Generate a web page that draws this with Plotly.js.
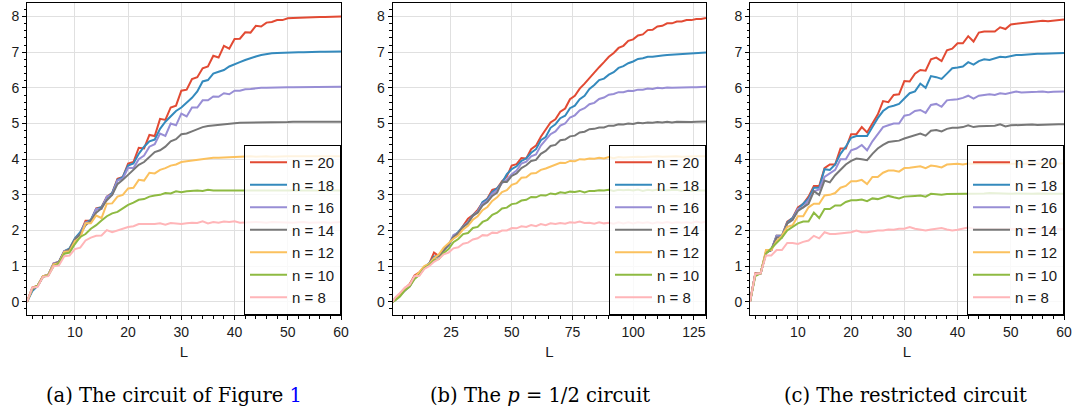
<!DOCTYPE html>
<html><head><meta charset="utf-8">
<script src="https://cdn.plot.ly/plotly-3.0.1.min.js"></script>
<style>html,body{margin:0;padding:0;background:#fff}#chart{width:1079px;height:413px}</style>
</head><body><div id="chart"></div>
<script>
// ---- data ----
const seriesLabels = ['n = 20', 'n = 18', 'n = 16', 'n = 14', 'n = 12', 'n = 10', 'n = 8'];
const seriesColors = ['#E24A33', '#348ABD', '#988ED5', '#777777', '#FBC15E', '#8EBA42', '#FFB5B8'];

// x values (circuit depth L)
const L_a = []; for (let i = 1; i <= 60; i++) L_a.push(i);
const L_b = [1]; for (let i = 2; i <= 130; i += 2) L_b.push(i);
const L_c = []; for (let i = 1; i <= 60; i++) L_c.push(i);

// (a) The circuit of Figure 1
const a_n20 = [0,0.4,0.45,0.72,0.75,1.08,1.12,1.42,1.47,1.76, 1.92,2.27,2.27,2.62,2.65,2.95,3.05,3.45,3.5,3.88, 3.92,4.32,4.3,4.68,4.65,5.13,5.1,5.45,5.5,5.92, 5.95,6.25,6.3,6.55,6.6,6.9,6.85,7.18,7.1,7.37, 7.38,7.56,7.55,7.74,7.72,7.83,7.85,7.9,7.9,7.95, 7.96,7.97,7.98,7.98,7.99,7.99,7.99,8.0,8.0,8.0];
const a_n18 = [0,0.3,0.45,0.7,0.76,1.05,1.12,1.42,1.5,1.78, 1.95,2.22,2.3,2.6,2.65,2.92,3.05,3.42,3.5,3.82, 3.88,4.15,4.35,4.5,4.55,4.85,5.05,5.2,5.35,5.45, 5.58,5.72,5.9,6.18,6.22,6.4,6.45,6.5,6.6,6.65, 6.72,6.78,6.84,6.88,6.92,6.95,6.97,6.98,6.99,7.0, 7.0,7.0,7.0,7.01,7.01,7.01,7.01,7.01,7.01,7.02];
const a_n16 = [0,0.35,0.45,0.72,0.75,1.08,1.12,1.42,1.45,1.75, 1.9,2.22,2.25,2.6,2.6,2.95,3.0,3.4,3.45,3.76, 3.75,4.0,4.1,4.35,4.42,4.72,4.65,5.0,4.95,5.28, 5.2,5.45,5.45,5.65,5.65,5.76,5.75,5.85,5.82,5.92, 5.92,5.96,5.97,5.99,6.0,6.0,6.01,6.01,6.02,6.02, 6.02,6.02,6.02,6.03,6.02,6.03,6.03,6.03,6.03,6.03];
const a_n14 = [0,0.35,0.45,0.7,0.76,1.05,1.12,1.4,1.48,1.75, 1.9,2.15,2.28,2.5,2.62,2.85,3.0,3.3,3.42,3.56, 3.7,3.84,3.92,4.05,4.2,4.25,4.35,4.5,4.56,4.7, 4.72,4.78,4.85,4.9,4.93,4.95,4.97,4.99,5.0,5.01, 5.02,5.02,5.03,5.03,5.03,5.04,5.04,5.04,5.04,5.04, 5.05,5.05,5.04,5.05,5.05,5.05,5.05,5.05,5.05,5.05];
const a_n12 = [0,0.38,0.45,0.72,0.75,1.05,1.08,1.4,1.42,1.7, 1.8,2.2,2.2,2.42,2.35,2.75,2.76,2.95,3.0,3.18, 3.2,3.42,3.4,3.62,3.6,3.7,3.75,3.82,3.85,3.92, 3.94,3.96,4.0,4.02,4.03,4.04,4.04,4.05,4.05,4.07, 4.06,4.07,4.08,4.07,4.08,4.08,4.07,4.08,4.08,4.08, 4.08,4.08,4.08,4.09,4.08,4.08,4.08,4.09,4.08,4.08];
const a_n10 = [0,0.38,0.45,0.7,0.74,1.0,1.08,1.35,1.38,1.62, 1.82,1.9,2.05,2.15,2.28,2.4,2.48,2.52,2.62,2.72, 2.78,2.86,2.88,2.95,2.98,3.0,3.05,3.04,3.1,3.07, 3.1,3.12,3.12,3.11,3.14,3.12,3.12,3.13,3.12,3.13, 3.13,3.12,3.13,3.13,3.12,3.13,3.12,3.13,3.13,3.12, 3.13,3.12,3.13,3.13,3.12,3.13,3.12,3.13,3.12,3.12];
const a_n8 = [0,0.4,0.42,0.7,0.72,1.0,1.02,1.28,1.3,1.48, 1.52,1.72,1.8,1.85,1.86,2.01,1.95,2.0,2.05,2.1, 2.12,2.18,2.18,2.17,2.18,2.2,2.16,2.21,2.2,2.18, 2.2,2.22,2.21,2.26,2.2,2.24,2.22,2.25,2.24,2.26, 2.22,2.23,2.24,2.24,2.23,2.22,2.24,2.23,2.22,2.23, 2.22,2.23,2.24,2.22,2.23,2.24,2.23,2.22,2.23,2.24];

// (b) The p = 1/2 circuit  (L = 1, 2, 4, ..., 130)
const b_n20 = [0,0.08,0.22,0.37,0.5,0.74,0.83,0.97,1.06,1.38, 1.28,1.47,1.6,1.82,1.93,2.14,2.33,2.43,2.58,2.78, 2.9,3.14,3.18,3.38,3.52,3.82,3.86,4.03,4.02,4.28, 4.38,4.63,4.82,5.03,5.12,5.33,5.42,5.68,5.78,5.98, 6.12,6.28,6.42,6.58,6.72,6.87,6.98,7.12,7.18,7.32, 7.36,7.47,7.5,7.62,7.63,7.72,7.74,7.81,7.81,7.86, 7.86,7.9,7.9,7.93,7.93,7.96];
const b_n18 = [0,0.1,0.2,0.35,0.46,0.7,0.8,0.97,1.08,1.27, 1.3,1.47,1.58,1.84,1.96,2.12,2.23,2.43,2.53,2.8, 2.88,3.08,3.18,3.34,3.58,3.72,3.8,3.95,4.02,4.18, 4.28,4.53,4.62,4.88,4.98,5.15,5.22,5.43,5.5,5.68, 5.78,5.97,6.08,6.22,6.26,6.37,6.44,6.56,6.61,6.69, 6.74,6.81,6.83,6.87,6.87,6.9,6.91,6.92,6.93,6.94, 6.95,6.96,6.96,6.97,6.98,6.99];
const b_n16 = [0,0.05,0.18,0.32,0.43,0.67,0.78,0.94,1.03,1.22, 1.28,1.44,1.58,1.87,1.93,2.1,2.23,2.4,2.53,2.75, 2.83,3.03,3.13,3.33,3.43,3.58,3.68,3.88,3.93,4.08, 4.13,4.38,4.53,4.7,4.78,4.94,5.0,5.17,5.23,5.37, 5.43,5.54,5.58,5.69,5.73,5.81,5.83,5.88,5.88,5.92, 5.91,5.95,5.95,5.98,5.97,6.0,5.99,6.01,6.0,6.01, 6.01,6.01,6.02,6.02,6.02,6.03];
const b_n14 = [0,0.05,0.18,0.34,0.44,0.68,0.78,0.95,1.05,1.24, 1.28,1.45,1.6,1.82,1.93,2.1,2.2,2.42,2.5,2.7, 2.8,2.97,3.06,3.37,3.36,3.53,3.6,3.75,3.83,3.95, 3.98,4.15,4.23,4.37,4.4,4.53,4.55,4.64,4.66,4.75, 4.77,4.84,4.85,4.89,4.89,4.94,4.94,4.98,4.97,5.0, 4.99,5.02,5.01,5.03,5.02,5.04,5.03,5.05,5.03,5.05, 5.04,5.05,5.04,5.05,5.05,5.06];
const b_n12 = [0,0.06,0.2,0.36,0.48,0.7,0.83,1.0,1.06,1.22, 1.33,1.52,1.66,1.77,1.86,2.03,2.13,2.3,2.4,2.57, 2.66,2.83,2.93,3.08,3.13,3.28,3.33,3.48,3.49,3.6, 3.61,3.7,3.74,3.8,3.84,3.9,3.89,3.95,3.94,4.0, 3.99,4.02,4.01,4.04,4.02,4.06,4.03,4.06,4.05,4.06, 4.05,4.07,4.06,4.07,4.06,4.08,4.07,4.08,4.07,4.08, 4.07,4.08,4.07,4.08,4.08,4.08];
const b_n10 = [0,0.04,0.15,0.32,0.43,0.64,0.76,0.94,1.03,1.17, 1.2,1.37,1.48,1.67,1.76,1.9,1.93,2.07,2.1,2.24, 2.3,2.44,2.5,2.62,2.64,2.74,2.76,2.84,2.86,2.94, 2.93,2.99,2.98,3.04,3.02,3.07,3.05,3.09,3.08,3.11, 3.07,3.11,3.11,3.13,3.12,3.14,3.11,3.14,3.13,3.14, 3.12,3.15,3.11,3.14,3.12,3.15,3.12,3.13,3.12,3.14, 3.11,3.14,3.11,3.13,3.12,3.12];
const b_n8 = [0,0.12,0.25,0.4,0.48,0.72,0.73,0.92,1.0,1.12, 1.2,1.33,1.38,1.5,1.53,1.63,1.66,1.75,1.78,1.87, 1.86,1.94,1.93,2.0,2.0,2.07,2.06,2.12,2.1,2.15, 2.12,2.18,2.15,2.2,2.18,2.21,2.19,2.23,2.22,2.25, 2.21,2.22,2.19,2.23,2.2,2.22,2.19,2.23,2.2,2.23, 2.2,2.23,2.21,2.23,2.2,2.23,2.21,2.24,2.21,2.23, 2.22,2.23,2.21,2.25,2.22,2.25];

// (c) The restricted circuit
const c_n20 = [0,0.8,0.8,1.4,1.45,1.85,1.85,2.25,2.35,2.65, 2.75,2.95,3.25,3.25,3.75,3.85,3.85,4.3,4.3,4.7, 4.7,4.9,4.75,5.0,5.25,5.63,5.6,5.8,5.82,6.19, 6.18,6.4,6.5,6.48,6.8,6.85,6.75,7.05,7.1,7.25, 7.25,7.45,7.3,7.55,7.58,7.58,7.58,7.7,7.65,7.78, 7.8,7.82,7.83,7.85,7.87,7.88,7.87,7.89,7.9,7.92];
const c_n18 = [0,0.78,0.8,1.38,1.45,1.85,1.85,2.22,2.35,2.6, 2.75,2.9,3.2,3.2,3.72,3.7,3.85,4.15,4.35,4.6, 4.65,4.65,4.65,4.9,5.15,5.35,5.46,5.5,5.55,5.7, 5.85,5.9,6.12,6.0,6.33,6.3,6.25,6.4,6.55,6.57, 6.6,6.72,6.65,6.75,6.8,6.78,6.82,6.87,6.86,6.9, 6.92,6.92,6.94,6.95,6.96,6.96,6.97,6.97,6.98,6.98];
const c_n16 = [0,0.78,0.8,1.38,1.45,1.85,1.82,2.2,2.3,2.6, 2.65,2.85,3.1,3.15,3.5,3.6,3.7,4.0,4.0,4.25, 4.3,4.4,4.25,4.5,4.7,4.9,4.95,5.0,5.0,5.22, 5.25,5.35,5.38,5.3,5.52,5.55,5.47,5.65,5.67,5.68, 5.72,5.78,5.7,5.78,5.8,5.82,5.8,5.85,5.83,5.87, 5.9,5.87,5.87,5.88,5.89,5.9,5.88,5.89,5.9,5.9];
const c_n14 = [0,0.78,0.8,1.38,1.45,1.8,1.8,2.2,2.3,2.55, 2.65,2.75,3.1,3.0,3.4,3.35,3.55,3.7,3.85,3.95, 4.02,4.0,3.97,4.15,4.3,4.4,4.48,4.5,4.52,4.58, 4.62,4.67,4.72,4.66,4.8,4.82,4.78,4.85,4.88,4.88, 4.9,4.95,4.9,4.92,4.93,4.95,4.94,4.98,4.92,4.95, 4.96,4.97,4.96,4.97,4.96,4.97,4.97,4.98,4.98,4.98];
const c_n12 = [0,0.78,0.8,1.45,1.45,1.7,1.85,2.1,2.15,2.4, 2.4,2.65,2.75,2.75,2.98,3.0,3.05,3.2,3.25,3.38, 3.38,3.42,3.3,3.5,3.5,3.62,3.68,3.68,3.65,3.75, 3.76,3.78,3.8,3.75,3.82,3.8,3.77,3.85,3.87,3.87, 3.85,3.88,3.87,3.87,3.88,3.87,3.88,3.87,3.88,3.88, 3.88,3.87,3.88,3.88,3.87,3.88,3.88,3.88,3.87,3.88];
const c_n10 = [0,0.72,0.8,1.35,1.5,1.65,1.8,2.0,2.1,2.2, 2.25,2.25,2.5,2.35,2.6,2.6,2.7,2.7,2.8,2.85, 2.85,2.87,2.82,2.9,2.88,2.92,2.97,2.93,2.9,2.95, 2.97,2.97,2.98,2.95,3.03,3.02,3.0,3.02,3.02,3.03, 3.03,3.02,3.04,3.03,3.04,3.05,3.04,3.03,3.04,3.03, 3.04,3.03,3.04,3.03,3.04,3.03,3.04,3.03,3.03,3.03];
const c_n8 = [0,0.78,0.8,1.3,1.3,1.45,1.45,1.65,1.65,1.62, 1.68,1.72,1.85,1.78,1.95,1.9,1.9,1.92,1.95,1.95, 2.0,1.95,1.95,1.98,2.0,2.0,2.03,2.02,2.05,2.05, 2.1,2.05,2.02,2.0,2.03,2.04,2.07,2.03,2.0,2.02, 2.06,2.08,2.05,2.05,2.04,2.05,2.06,2.05,2.04,2.05, 2.05,2.04,2.05,2.06,2.05,2.04,2.05,2.05,2.04,2.04];

const xTickStep = [10, 25, 10];
const xMinorStep = [2, 5, 2];
const xRanges = [[1, 60], [1, 130], [1, 60]];
const yRange = [-0.37, 8.38];
const captions = ['(a) The circuit of Figure <span style="color:#0000ff">1</span>',
                  '(b) The <i>p</i> = 1/2 circuit',
                  '(c) The restricted circuit'];

// ---- build ----
const panels = [
  {L: L_a, ys: [a_n20, a_n18, a_n16, a_n14, a_n12, a_n10, a_n8]},
  {L: L_b, ys: [b_n20, b_n18, b_n16, b_n14, b_n12, b_n10, b_n8]},
  {L: L_c, ys: [c_n20, c_n18, c_n16, c_n14, c_n12, c_n10, c_n8]}
];
const W = 1079, H = 413;
const xDom = [[27, 341], [392.7, 706], [750, 1064]];
const yDom = [(H - 315) / H, (H - 3) / H];
const capX = [174, 540, 906];

const traces = [];
panels.forEach((p, pi) => {
  const sfx = pi === 0 ? '' : String(pi + 1);
  p.ys.forEach((y, si) => {
    traces.push({
      x: p.L, y: y, type: 'scatter', mode: 'lines',
      name: seriesLabels[si],
      line: {color: seriesColors[si], width: 2},
      xaxis: 'x' + sfx, yaxis: 'y' + sfx,
      legend: 'legend' + sfx
    });
  });
});

const sans = 'Liberation Sans, Arial, sans-serif';
const tickFont = {family: sans, size: 14, color: '#1a1a1a'};
const layout = {
  width: W, height: H, autosize: false,
  margin: {l: 0, r: 0, t: 0, b: 0},
  paper_bgcolor: '#fff', plot_bgcolor: '#fff',
  showlegend: true,
  annotations: []
};
panels.forEach((p, pi) => {
  const sfx = pi === 0 ? '' : String(pi + 1);
  layout['xaxis' + sfx] = {
    domain: [xDom[pi][0] / W, xDom[pi][1] / W],
    anchor: 'y' + sfx, range: xRanges[pi],
    tick0: 0, dtick: xTickStep[pi],
    ticks: 'outside', ticklen: 4, tickwidth: 1, tickcolor: '#000',
    minor: {dtick: xMinorStep[pi], tick0: 0, ticks: 'outside', ticklen: 2.5, tickcolor: '#000', showgrid: false},
    showline: true, linecolor: '#000', linewidth: 1, mirror: true,
    showgrid: true, gridcolor: '#e0e0e0', gridwidth: 1, zeroline: false,
    tickfont: tickFont, automargin: false,
    title: {text: 'L', font: {family: sans, size: 15, color: '#1a1a1a'}, standoff: 7}
  };
  layout['yaxis' + sfx] = {
    domain: yDom, anchor: 'x' + sfx, range: yRange,
    tick0: 0, dtick: 1,
    ticks: 'outside', ticklen: 4, tickwidth: 1, tickcolor: '#000',
    minor: {dtick: 0.2, tick0: 0, ticks: 'outside', ticklen: 2.5, tickcolor: '#000', showgrid: false},
    showline: true, linecolor: '#000', linewidth: 1, mirror: true,
    showgrid: true, gridcolor: '#e0e0e0', gridwidth: 1, zeroline: false,
    tickfont: tickFont, automargin: false
  };
  layout['legend' + sfx] = {
    x: xDom[pi][1] / W, xanchor: 'right', xref: 'paper',
    y: yDom[0], yanchor: 'bottom', yref: 'paper',
    bgcolor: 'rgba(255,255,255,0.8)', bordercolor: '#000', borderwidth: 1,
    font: {family: sans, size: 15, color: '#1a1a1a'},
    itemwidth: 37, traceorder: 'normal'
  };
  layout.annotations.push({
    xref: 'paper', yref: 'paper', x: capX[pi] / W, y: (H - 395) / H,
    xanchor: 'center', yanchor: 'middle', showarrow: false,
    text: captions[pi],
    font: {family: 'DejaVu Serif, serif', size: 19.5, color: '#000'}
  });
});

Plotly.newPlot('chart', traces, layout, {displayModeBar: false, staticPlot: true});
</script>
</body></html>
